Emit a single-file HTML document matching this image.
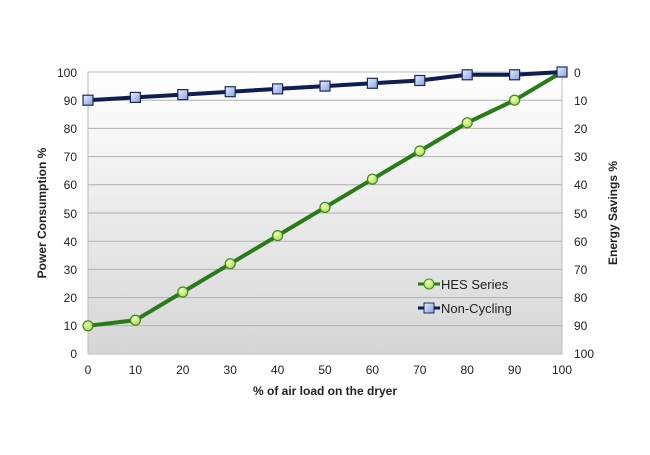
<!DOCTYPE html>
<html><head><style>body{margin:0;background:#fff}svg{display:block}text{font-family:"Liberation Sans",Arial,sans-serif;fill:#222}</style></head>
<body>
<svg width="650" height="455" xmlns="http://www.w3.org/2000/svg">
<defs>
<linearGradient id="bg" x1="0" y1="0" x2="0" y2="1"><stop offset="0" stop-color="#ffffff"/><stop offset="1" stop-color="#d6d6d6"/></linearGradient>
<radialGradient id="gc" cx="0.4" cy="0.35" r="0.7"><stop offset="0" stop-color="#f4ffc0"/><stop offset="1" stop-color="#a8d848"/></radialGradient>
<linearGradient id="bs" x1="0" y1="0" x2="1" y2="1"><stop offset="0" stop-color="#e8eeff"/><stop offset="1" stop-color="#8aa0d8"/></linearGradient>
</defs>
<rect x="88" y="72" width="474" height="282" fill="url(#bg)" stroke="#bbb"/>
<g stroke="#b0b0b0" stroke-width="1">
<line x1="88" x2="562" y1="100.2" y2="100.2"/><line x1="88" x2="562" y1="128.4" y2="128.4"/><line x1="88" x2="562" y1="156.6" y2="156.6"/><line x1="88" x2="562" y1="184.8" y2="184.8"/><line x1="88" x2="562" y1="213" y2="213"/><line x1="88" x2="562" y1="241.2" y2="241.2"/><line x1="88" x2="562" y1="269.4" y2="269.4"/><line x1="88" x2="562" y1="297.6" y2="297.6"/><line x1="88" x2="562" y1="325.8" y2="325.8"/>
</g>
<g font-size="12" text-anchor="end">
<text x="77" y="77">100</text><text x="77" y="105">90</text><text x="77" y="133">80</text><text x="77" y="161">70</text><text x="77" y="189">60</text><text x="77" y="218">50</text><text x="77" y="246">40</text><text x="77" y="274">30</text><text x="77" y="302">20</text><text x="77" y="330">10</text><text x="77" y="358">0</text>
</g>
<g font-size="12" text-anchor="start">
<text x="574" y="77">0</text><text x="574" y="105">10</text><text x="574" y="133">20</text><text x="574" y="161">30</text><text x="574" y="189">40</text><text x="574" y="218">50</text><text x="574" y="246">60</text><text x="574" y="274">70</text><text x="574" y="302">80</text><text x="574" y="330">90</text><text x="574" y="358">100</text>
</g>
<g font-size="12" text-anchor="middle">
<text x="88" y="374">0</text><text x="135.4" y="374">10</text><text x="182.8" y="374">20</text><text x="230.2" y="374">30</text><text x="277.6" y="374">40</text><text x="325" y="374">50</text><text x="372.4" y="374">60</text><text x="419.8" y="374">70</text><text x="467.2" y="374">80</text><text x="514.6" y="374">90</text><text x="562" y="374">100</text>
</g>
<text x="325" y="395" font-size="12" font-weight="bold" text-anchor="middle">% of air load on the dryer</text>
<text transform="translate(46,213) rotate(-90)" font-size="12" font-weight="bold" text-anchor="middle">Power Consumption %</text>
<text transform="translate(617,213) rotate(-90)" font-size="12" font-weight="bold" text-anchor="middle">Energy Savings %</text>
<polyline fill="none" stroke="#2a7a1a" stroke-width="4" points="88,325.8 135.4,320.2 182.8,292 230.2,263.8 277.6,235.6 325,207.4 372.4,179.2 419.8,151 467.2,122.8 514.6,100.2 562,72"/>
<g fill="url(#gc)" stroke="#3a8a20" stroke-width="1.2">
<circle cx="88" cy="325.8" r="5"/><circle cx="135.4" cy="320.2" r="5"/><circle cx="182.8" cy="292" r="5"/><circle cx="230.2" cy="263.8" r="5"/><circle cx="277.6" cy="235.6" r="5"/><circle cx="325" cy="207.4" r="5"/><circle cx="372.4" cy="179.2" r="5"/><circle cx="419.8" cy="151" r="5"/><circle cx="467.2" cy="122.8" r="5"/><circle cx="514.6" cy="100.2" r="5"/>
</g>
<polyline fill="none" stroke="#0e1e50" stroke-width="4" points="88,100.2 135.4,97.4 182.8,94.6 230.2,91.7 277.6,88.9 325,86.1 372.4,83.3 419.8,80.5 467.2,74.8 514.6,74.8 562,72"/>
<g fill="url(#bs)" stroke="#1a2a60" stroke-width="1.2">
<rect x="83" y="95.2" width="10" height="10"/><rect x="130.4" y="92.4" width="10" height="10"/><rect x="177.8" y="89.6" width="10" height="10"/><rect x="225.2" y="86.7" width="10" height="10"/><rect x="272.6" y="83.9" width="10" height="10"/><rect x="320" y="81.1" width="10" height="10"/><rect x="367.4" y="78.3" width="10" height="10"/><rect x="414.8" y="75.5" width="10" height="10"/><rect x="462.2" y="69.8" width="10" height="10"/><rect x="509.6" y="69.8" width="10" height="10"/>
</g>
<rect x="557" y="67" width="10" height="10" fill="url(#bs)" stroke="#1a2a60" stroke-width="1.2"/>
<line x1="418" x2="440" y1="284" y2="284" stroke="#2a7a1a" stroke-width="3"/>
<circle cx="429" cy="284" r="5" fill="url(#gc)" stroke="#3a8a20"/>
<text x="441" y="289" font-size="13">HES Series</text>
<line x1="418" x2="440" y1="308" y2="308" stroke="#0e1e50" stroke-width="3"/>
<rect x="424" y="303" width="10" height="10" fill="url(#bs)" stroke="#1a2a60"/>
<text x="441" y="313" font-size="13">Non-Cycling</text>
</svg>
</body></html>
